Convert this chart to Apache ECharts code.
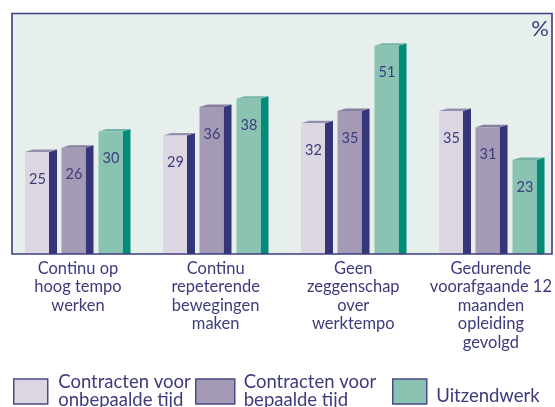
<!DOCTYPE html>
<html>
<head>
<meta charset="utf-8">
<script src="https://cdn.jsdelivr.net/npm/echarts@6/dist/echarts.min.js"></script>
<style>
html,body{margin:0;padding:0;background:#ffffff;}
#chart{width:555px;height:407px;}
</style>
</head>
<body>
<div id="chart"></div>
<script>
const categories = [
  'Continu op\nhoog tempo\nwerken',
  'Continu\nrepeterende\nbewegingen\nmaken',
  'Geen\nzeggenschap\nover\nwerktempo',
  'Gedurende\nvoorafgaande 12\nmaanden\nopleiding\ngevolgd'
];
const seriesNames = ['Contracten voor\nonbepaalde tijd', 'Contracten voor\nbepaalde tijd', 'Uitzendwerk'];
const onbepaaldeTijd = [25, 29, 32, 35];
const bepaaldeTijd = [26, 36, 35, 31];
const uitzendwerk = [30, 38, 51, 23];
const seriesValues = [onbepaaldeTijd, bepaaldeTijd, uitzendwerk];

const frontColors = ['#dbd6e2', '#a49ab6', '#8bc3b3'];
const sideColors = ['#35357a', '#35357a', '#008c78'];
const topColors = ['#968fb0', '#877ea2', '#70b5a3'];
const frontOffsets = [-53, -16.5, 20.5];
const W = 24, D = 8, DY = 2.5;
const TEXT = '#3d3b7c';

const chart = echarts.init(document.getElementById('chart'), null, {renderer: 'canvas'});

function makeRender(si) {
  return function (params, api) {
    const idx = api.value(0);
    const val = api.value(1);
    const top = api.coord([idx, val]);
    const base = api.coord([idx, 0]);
    const left = top[0] + frontOffsets[si];
    const ty = top[1], by = base[1];
    return {
      type: 'group',
      children: [
        {type: 'polygon', shape: {points: [[left + W, ty], [left + W + D, ty - DY], [left + W + D, by], [left + W, by]]},
         style: {fill: sideColors[si]}},
        {type: 'polygon', shape: {points: [[left, ty], [left + W, ty], [left + W + D, ty - DY], [left + D, ty - DY]]},
         style: {fill: topColors[si]}},
        {type: 'rect', shape: {x: left, y: ty, width: W, height: by - ty},
         style: {fill: frontColors[si]}},
        {type: 'text', x: left + W / 2 + 0.5, y: ty + 27,
         style: {text: String(val), fill: TEXT, font: '14.5px Lato', textAlign: 'center', textVerticalAlign: 'middle'}}
      ]
    };
  };
}

const series = seriesValues.map(function (vals, si) {
  return {
    type: 'custom',
    name: seriesNames[si],
    xAxisIndex: 0, yAxisIndex: 0,
    renderItem: makeRender(si),
    itemStyle: {color: frontColors[si]},
    data: vals.map(function (v, i) { return [i, v]; }),
    z: 5
  };
});

function legendFor(si, left, top, w, padLeft, padTop) {
  return {
    left: left, top: top, padding: 0,
    itemWidth: w, itemHeight: 25,
    selectedMode: false,
    formatter: function (name) { return '{t|' + name + '}'; },
    textStyle: {color: TEXT, fontFamily: 'Lato', fontSize: 18.5, lineHeight: 18,
      rich: {t: {color: TEXT, fontFamily: 'Lato', fontSize: 18.5, lineHeight: 18, padding: [padTop, 0, 0, padLeft]}}},
    data: [{name: seriesNames[si], icon: 'rect',
      itemStyle: {color: frontColors[si], borderColor: '#4a4a88', borderWidth: 1.5}}]
  };
}

const option = {
  animation: false,
  backgroundColor: '#ffffff',
  grid: [
    {left: 9, width: 540, top: 13, bottom: 153},
    {left: 78, width: 414, top: 13, bottom: 153}
  ],
  xAxis: [
    {type: 'value', gridIndex: 0, min: -0.5, max: 3.413, show: false},
    {type: 'category', gridIndex: 1, data: categories, boundaryGap: false,
     axisLine: {show: false}, axisTick: {show: false},
     axisLabel: {color: TEXT, fontFamily: 'Lato', fontSize: 16.5, lineHeight: 18.5, margin: 5, interval: 0}}
  ],
  yAxis: [
    {type: 'value', gridIndex: 0, min: 0, max: 59, show: false},
    {type: 'value', gridIndex: 1, min: 0, max: 59, show: false}
  ],
  legend: [
    legendFor(0, 13, 373, 34, 5.5, 0),
    legendFor(1, 195, 373, 39, 4, 0),
    legendFor(2, 392, 377.5, 34, 4.5, 9)
  ],
  graphic: [
    {type: 'rect', z: -10, shape: {x: 12, y: 13.5, width: 540, height: 240.5},
     style: {fill: '#e6efec'}},
    {type: 'rect', z: 100, shape: {x: 12, y: 13.5, width: 540, height: 240.5},
     style: {fill: 'none', stroke: '#3e3e82', lineWidth: 1.6}},
    {type: 'text', z: 100, x: 540, y: 29,
     style: {text: '%', fill: TEXT, font: '22px Lato', textAlign: 'center', textVerticalAlign: 'middle'}}
  ],
  series: series
};
chart.setOption(option);
</script>
</body>
</html>
